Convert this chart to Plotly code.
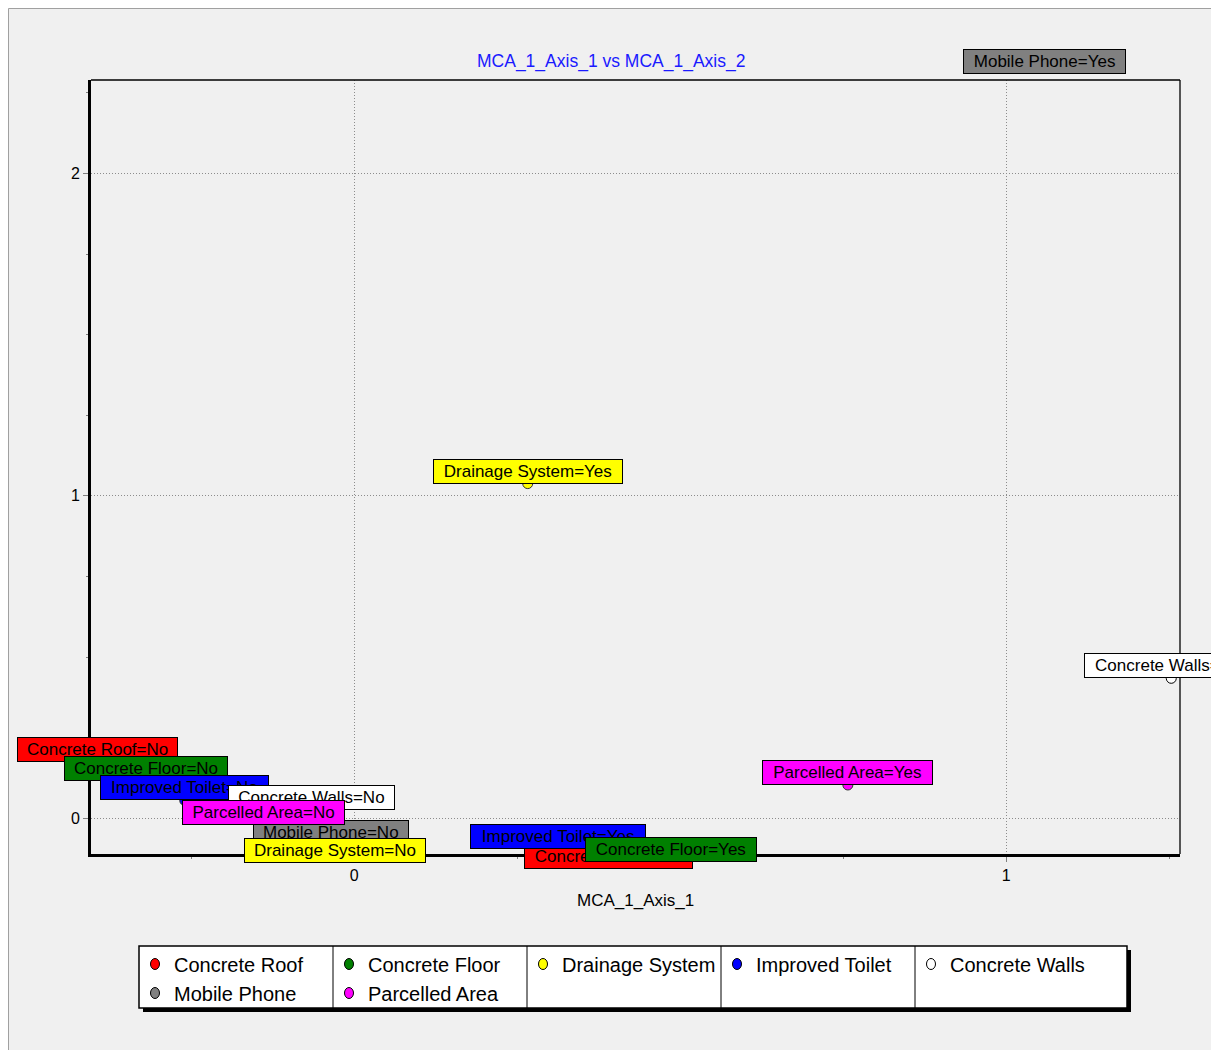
import plotly.graph_objects as go

# ---------------- data ----------------
series = ["Concrete Roof", "Concrete Floor", "Drainage System", "Improved Toilet",
          "Concrete Walls", "Mobile Phone", "Parcelled Area"]
colors = ["#ff0000", "#008000", "#ffff00", "#0000ff", "#ffffff", "#808080", "#ff00ff"]
yes_x = [0.390, 0.485, 0.266, 0.313, 1.253, 1.059, 0.757]
yes_y = [-0.157, -0.135, 1.038, -0.096, 0.434, 2.309, 0.103]
no_x = [-0.394, -0.320, -0.029, -0.260, -0.065, -0.036, -0.140]
no_y = [0.174, 0.116, -0.140, 0.055, 0.024, -0.083, -0.021]
x_ticks = [0, 1]
y_ticks = [0, 1, 2]
x_title = "MCA_1_Axis_1"
chart_title = "MCA_1_Axis_1 vs MCA_1_Axis_2"

# label drawing order (series index, level)
label_order = [(0, "No"), (1, "No"), (3, "No"), (4, "No"), (5, "No"), (6, "No"), (2, "No"),
               (0, "Yes"), (3, "Yes"), (1, "Yes"),
               (2, "Yes"), (4, "Yes"), (6, "Yes"), (5, "Yes")]

# ---------------- layout geometry (page pixel coordinates) ----------------
PAGE_W, PAGE_H = 1219, 1050
OFF = 8                      # default body margin of the html page
L, R, T, B = 91, 1180, 80, 854
PW, PH = R - L, B - T
x_range = [-0.4038, 1.2664]
y_range = [-0.111, 2.290]
FONT = "Arial, Liberation Sans, sans-serif"


def fx(px):
    return (px - L) / PW


def fy(py):
    return (B - py) / PH


def y_to_paper(v):
    return (v - y_range[0]) / (y_range[1] - y_range[0])


AW = {' ': 278, '=': 584, 'A': 667, 'C': 722, 'D': 722, 'F': 611, 'I': 278, 'M': 833,
      'N': 722, 'P': 667, 'R': 722, 'S': 667, 'T': 611, 'W': 944, 'Y': 667,
      'a': 556, 'b': 556, 'c': 500, 'd': 556, 'e': 556, 'f': 278, 'g': 556, 'h': 556,
      'i': 222, 'l': 222, 'm': 833, 'n': 556, 'o': 556, 'p': 556, 'r': 333, 's': 500,
      't': 278, 'v': 500, 'y': 500}


def text_w(s, size):
    return sum(AW.get(c, 556) for c in s) * size / 1000.0


fig = go.Figure()

for i, name in enumerate(series):
    fig.add_trace(go.Scatter(
        x=[yes_x[i], no_x[i]], y=[yes_y[i], no_y[i]],
        mode="markers", name=name, showlegend=False,
        marker=dict(size=10, color=colors[i],
                    line=dict(color="#000000" if colors[i] == "#ffffff" else "#303030", width=1)),
        hoverinfo="text", text=[name + "=Yes", name + "=No"],
    ))

annotations = []
LABEL_SIZE = 17
for i, lvl in label_order:
    txt = f"{series[i]}={lvl}"
    xv = yes_x[i] if lvl == "Yes" else no_x[i]
    yv = yes_y[i] if lvl == "Yes" else no_y[i]
    annotations.append(dict(
        x=xv, y=y_to_paper(yv), xref="x", yref="paper",
        text=txt, showarrow=False, xanchor="center", yanchor="bottom",
        bgcolor=colors[i], bordercolor="#000000", borderwidth=1, borderpad=2,
        width=text_w(txt, LABEL_SIZE) + 14,
        font=dict(family=FONT, size=LABEL_SIZE, color="#000000"),
    ))

# title & axis title
annotations.append(dict(x=fx(611), y=fy(61), xref="paper", yref="paper", text=chart_title,
                        showarrow=False, xanchor="center", yanchor="middle",
                        font=dict(family=FONT, size=17.5, color="#1a1aff")))
annotations.append(dict(x=fx(635.5), y=fy(900), xref="paper", yref="paper", text=x_title,
                        showarrow=False, xanchor="center", yanchor="middle",
                        font=dict(family=FONT, size=17, color="#000000")))

shapes = []
# outer frame
shapes.append(dict(type="rect", xref="paper", yref="paper", x0=fx(OFF + 0.5), x1=fx(1260),
                   y0=fy(1080), y1=fy(OFF + 0.5), fillcolor="#f0f0f0",
                   line=dict(color="#a0a0a0", width=1), layer="below"))
# thin top/right plot border
shapes.append(dict(type="line", xref="paper", yref="paper", x0=0, x1=1, y0=1, y1=1,
                   line=dict(color="#000000", width=1.3), layer="above"))
shapes.append(dict(type="line", xref="paper", yref="paper", x0=1, x1=1, y0=0, y1=1,
                   line=dict(color="#000000", width=1.3), layer="above"))

# custom legend
LX0, LX1, LY0, LY1 = 139, 1127, 946, 1008
COLW = 194
shapes.append(dict(type="rect", xref="paper", yref="paper", x0=fx(LX0 + 4), x1=fx(LX1 + 4),
                   y0=fy(LY1 + 4), y1=fy(LY0 + 4), fillcolor="#000000",
                   line=dict(width=0), layer="above"))
shapes.append(dict(type="rect", xref="paper", yref="paper", x0=fx(LX0), x1=fx(LX1),
                   y0=fy(LY1), y1=fy(LY0), fillcolor="#ffffff",
                   line=dict(color="#000000", width=1.5), layer="above"))
for c in range(1, 5):
    xx = LX0 + c * COLW
    shapes.append(dict(type="line", xref="paper", yref="paper", x0=fx(xx), x1=fx(xx),
                       y0=fy(LY1), y1=fy(LY0), line=dict(color="#000000", width=1),
                       layer="above"))
for i, name in enumerate(series):
    col, row = i % 5, i // 5
    cx = LX0 + col * COLW + 16
    cy = 964 + row * 29
    shapes.append(dict(type="circle", xref="paper", yref="paper",
                       xsizemode="pixel", ysizemode="pixel",
                       xanchor=fx(cx), yanchor=fy(cy), x0=-4.5, x1=4.5, y0=-5.5, y1=5.5,
                       fillcolor=colors[i], line=dict(color="#000000", width=1),
                       layer="above"))
    annotations.append(dict(x=fx(cx + 17), y=fy(cy + 1), xref="paper", yref="paper",
                            text=name, showarrow=False, xanchor="left", yanchor="middle",
                            font=dict(family=FONT, size=20, color="#000000")))

axis_common = dict(
    showline=True, linewidth=3, linecolor="#000000", mirror=False,
    showgrid=True, gridcolor="#8c8c8c", gridwidth=1, griddash="1px,2px",
    zeroline=False, ticks="outside", ticklen=5, tickwidth=1, tickcolor="#808080",
    tickfont=dict(family=FONT, size=16, color="#000000"),
    minor=dict(dtick=0.25, ticks="outside", ticklen=2, tickcolor="#808080", showgrid=False),
    fixedrange=True,
)

fig.update_layout(
    width=PAGE_W - OFF, height=PAGE_H - OFF, autosize=False,
    margin=dict(l=L - OFF, r=PAGE_W - R, t=T - OFF, b=PAGE_H - B, pad=0),
    paper_bgcolor="#ffffff", plot_bgcolor="#f0f0f0",
    showlegend=False,
    xaxis=dict(range=x_range, tickvals=x_ticks, ticktext=[str(v) for v in x_ticks],
               **axis_common),
    yaxis=dict(range=y_range, tickvals=y_ticks, ticktext=[str(v) for v in y_ticks],
               **axis_common),
    annotations=annotations, shapes=shapes,
    font=dict(family=FONT),
)

fig.write_html("out.html")
